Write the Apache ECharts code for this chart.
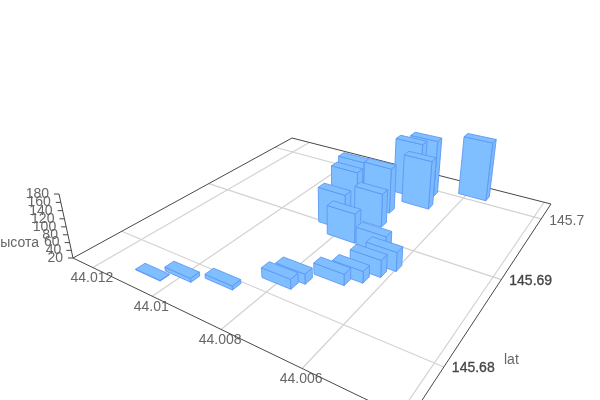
<!DOCTYPE html>
<html>
<head>
<meta charset="utf-8">
<style>html,body{margin:0;padding:0;background:#fff}#chart{width:600px;height:400px}</style>
<script src="https://cdn.jsdelivr.net/npm/echarts@6/dist/echarts.min.js"></script>
</head>
<body>
<div id="chart"></div>
<script>
// data
var lngValues = [44.01068,44.01006,44.00908,44.00801,44.00785,44.00709,44.00678,44.00655,44.00636,44.00682,44.00779,44.00832,44.0076,44.00852,44.0086,44.00777,44.00745,44.00716,44.00697,44.00581];
var latValues = [145.67743,145.67848,145.67938,145.6816,145.6826,145.68392,145.68486,145.68611,145.68734,145.68834,145.68896,145.69018,145.69216,145.6931,145.6946,145.69455,145.69826,145.69927,145.69694,145.70099];
var heightValues = [21.5,30,30,44.7,45,48,49,62.5,68,76.7,96.5,114,109.5,131.5,139,142,173,177,152.5,183];
var xTicks = [44.012,44.01,44.008,44.006,44.004];
var xTickLabels = ['44.012','44.01','44.008','44.006',''];
var yTicks = [145.68,145.69,145.7];
var yTickLabels = ['145.68','145.69','145.7'];
var zTicks = [20,40,60,80,100,120,140,160,180];
var zTickLabels = ['20','40','60','80','100','120','140','160','180'];

// scene settings
var xExtent = [44.01274,44.00381], yExtent = [145.6755,145.703], zExtent = [20,180];
var barSize = [0.091,0.032];
var cam = {a:212.1,b:354.3,c:73,d:34.8,e:-56.05,f:258,g:-0.3029,h:0.4634,k:-0.0505,vx:336,vy:1461};
var linearMap = echarts.number.linearMap;

function project(u,v,z){
  var w = 1+cam.g*u+cam.h*v+cam.k*z;
  return [(cam.a*u+cam.b*v+cam.c+cam.k*z*cam.vx)/w,(cam.d*u+cam.e*v+cam.f+cam.k*z*cam.vy)/w];
}
function U(x){return linearMap(x,xExtent,[0,1]);}
function V(y){return linearMap(y,yExtent,[0,1]);}
function Z(z){return linearMap(z,zExtent,[0,1]);}

var lineCol='#484848', gridCol='#d2d2d2', textCol='#666';
var fontBase='14px "Liberation Sans", Arial, sans-serif';
function seg(p,q,col,lw){
  return {type:'line',shape:{x1:p[0],y1:p[1],x2:q[0],y2:q[1]},style:{stroke:col,lineWidth:lw,fill:null},silent:true};
}
function txt(s,x,y,align,col,border){
  var st={text:s,fill:col||textCol,font:fontBase,textAlign:align,textVerticalAlign:'middle'};
  if(border){st.stroke=col;st.lineWidth=border;}
  return {type:'text',x:x,y:y,style:st,silent:true};
}

function renderXTick(params,api){
  var x=api.value(0), u=U(x), p=project(u,0,0), q=project(u,1,0);
  var kids=[seg(p,q,gridCol,1.2)];
  var s=xTickLabels[params.dataIndex];
  if(s) kids.push(txt(s,p[0]-1,p[1]+11,'center'));
  return {type:'group',children:kids};
}
function renderYTick(params,api){
  var y=api.value(0), v=V(y), p=project(0,v,0), q=project(1,v,0);
  var i=params.dataIndex;
  return {type:'group',children:[seg(p,q,gridCol,1.2),
    txt(yTickLabels[i],q[0]+8,q[1]+(i===0?1:2),'left',i<2?'#444':textCol,i<2?0.3:0)]};
}
function renderZTick(params,api){
  var z=api.value(0), p=project(0,0,Z(z));
  return {type:'group',children:[seg(p,[p[0]-5,p[1]],lineCol,1),
    txt(zTickLabels[params.dataIndex],p[0]-10,p[1],'right')]};
}
function renderFrame(params,api){
  var A=project(0,0,0),D=project(1,0,0),C=project(1,1,0),B=project(0,1,0),T=project(0,0,1);
  return {type:'group',children:[seg(A,D,lineCol,1),seg(D,C,lineCol,1),seg(C,B,lineCol,1),seg(B,A,lineCol,1),seg(A,T,lineCol,1),
    txt('высота',39,243,'right'),txt('lat',504,360,'left')]};
}
function face(pts,fill){
  return {type:'polygon',shape:{points:pts},style:{fill:fill,stroke:'#5c97f3',lineWidth:0.9,lineJoin:'round'},silent:true};
}
function renderBar(params,api){
  var u=U(api.value(0)),v=V(api.value(1)),h=Z(api.value(2));
  var du=barSize[0]/2,dv=barSize[1]/2;
  var u0=u-du,u1=u+du,v0=v-dv,v1=v+dv;
  var base=0;
  return {type:'group',children:[
    face([project(u1,v0,base),project(u1,v1,base),project(u1,v1,h),project(u1,v0,h)],'#7bbafd'),
    face([project(u0,v0,base),project(u1,v0,base),project(u1,v0,h),project(u0,v0,h)],'#80bfff'),
    face([project(u0,v0,h),project(u1,v0,h),project(u1,v1,h),project(u0,v1,h)],'#80bfff')
  ]};
}

// bars painted far to near
var barRows = lngValues.map(function(x,i){return [x,latValues[i],heightValues[i]];});
barRows.sort(function(p,q){
  function depth(r){return 1+cam.g*U(r[0])+cam.h*V(r[1]);}
  return depth(q)-depth(p);
});

var chart = echarts.init(document.getElementById('chart'),null,{renderer:'canvas'});
chart.setOption({
  animation:false,
  backgroundColor:'#fff',
  series:[
    {type:'custom',name:'xGrid',coordinateSystem:'none',data:xTicks.map(function(t){return [t];}),renderItem:renderXTick,z:1},
    {type:'custom',name:'yGrid',coordinateSystem:'none',data:yTicks.map(function(t){return [t];}),renderItem:renderYTick,z:1},
    {type:'custom',name:'frame',coordinateSystem:'none',data:[[0]],renderItem:renderFrame,z:2},
    {type:'custom',name:'zAxis',coordinateSystem:'none',data:zTicks.map(function(t){return [t];}),renderItem:renderZTick,z:2},
    {type:'custom',name:'bars',coordinateSystem:'none',data:barRows,renderItem:renderBar,z:3}
  ]
});
</script>
</body>
</html>
